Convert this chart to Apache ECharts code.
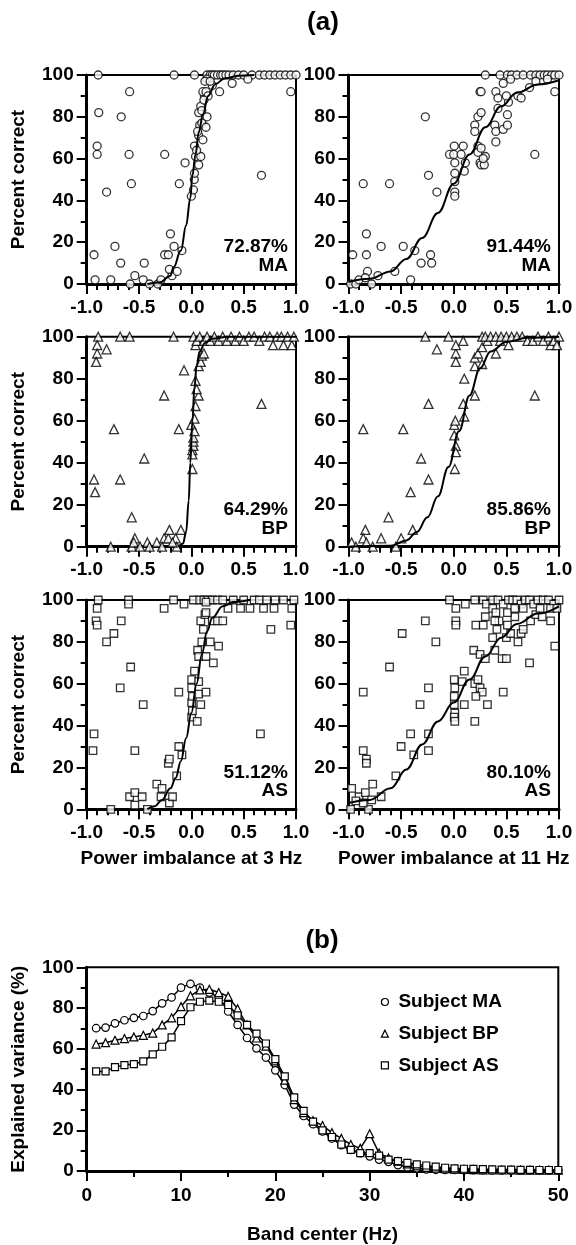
<!DOCTYPE html>
<html>
<head>
<meta charset="utf-8">
<script src="https://cdn.jsdelivr.net/npm/echarts@6/dist/echarts.min.js"></script>
<style>
html,body{margin:0;padding:0;background:#fff;}
#chart{width:576px;height:1245px;}
</style>
</head>
<body>
<div id="chart"></div>
<script>
// ---------- Panel (a) data: [power imbalance, percent correct] ----------
const ma3Pts = [[-0.89,100],[-0.165,100],[0.03,100],[0.15,100],[0.18,100],[0.2,100],[0.22,100],[0.25,100],[0.28,100],[0.3,100],[0.33,100],[0.36,100],[0.4,100],[0.45,100],[0.5,100],[0.58,100],[0.65,100],[0.7,100],[0.75,100],[0.8,100],[0.85,100],[0.9,100],[0.95,100],[1.0,100],
[-0.59,92],[-0.885,82],[-0.9,66],[-0.9,62],[-0.67,80],[-0.595,62],[-0.573,48],[-0.81,44],[-0.255,62],[-0.115,48],[-0.06,58],
[-0.93,14],[-0.92,2],[-0.77,2],[-0.73,18],[-0.675,10],[-0.54,4],[-0.585,0],[-0.45,10],[-0.46,2],[-0.4,0],[-0.32,0],[-0.29,2],[-0.255,14],[-0.22,14],[-0.2,24],[-0.165,18],[-0.09,16],[-0.185,4],[-0.136,6],[-0.21,7],
[0.0,42],[0.02,45],[0.028,50],[0.03,53],[0.04,61],[0.03,66],[0.07,57],[0.09,61],[0.07,71],[0.08,76],[0.1,77],[0.07,82],[0.09,85],[0.11,69],[0.14,75],[0.15,80],[0.125,90],[0.11,92],[0.14,92],[0.16,90],[0.15,98],[0.2,95],[0.27,92],[0.39,96],[0.54,98],[0.67,52],[0.95,92],[0.05,64],[0.06,73],[0.1,83],[0.12,88],[0.13,97],[0.18,97]];
const ma11Pts = [[0.30,100],[0.44,100],[0.51,100],[0.55,100],[0.6,100],[0.66,100],[0.73,100],[0.78,100],[0.82,100],[0.86,100],[0.89,100],[0.93,100],[0.96,100],[1.0,100],
[0.96,92],[0.77,62],[-0.27,80],[-0.24,52],[-0.16,44],[-0.86,48],[-0.61,48],[-0.96,14],[-0.83,24],[-0.83,14],[-0.82,6],[-0.69,18],[-0.48,18],[-0.56,6],[-0.41,2],[-0.37,16],[-0.31,10],[-0.22,14],[-0.21,10],
[-0.98,0],[-0.93,0],[-0.9,2],[-0.84,3],[-0.78,0],[-0.72,4],
[-0.04,62],[0.005,66],[0,62],[0.01,58],[0.01,53],[0.01,49],[0.01,44],[0.01,42],[0.09,66],[0.11,58],[0.1,54],[0.07,62],
[0.2,76],[0.2,73],[0.23,80],[0.25,92],[0.26,92],[0.26,82],[0.23,66],[0.23,63],[0.25,58],[0.26,57],[0.26,65],[0.3,61],[0.29,57],[0.28,60],
[0.39,76],[0.4,73],[0.4,68],[0.4,92],[0.42,89],[0.42,84],[0.47,74],[0.51,81],[0.52,87],[0.51,76],[0.47,96],[0.54,98],[0.61,90],[0.64,89],[0.72,94],[0.78,97],[0.89,98],[0.5,90]];
const bp3Pts = [[-0.89,100],[-0.68,100],[-0.59,100],[-0.17,100],
[-0.9,96],[-0.9,92],[-0.91,88],[-0.81,94],[-0.93,32],[-0.92,26],[-0.74,56],[-0.68,32],[-0.57,14],[-0.45,42],[-0.26,72],[-0.12,56],[-0.07,84],
[-0.77,0],[-0.57,0],[-0.54,4],[-0.55,2],[-0.42,2],[-0.33,2],[-0.26,4],[-0.22,4],[-0.21,8],[-0.15,4],[-0.1,8],[-0.14,0],[-0.28,0],[-0.49,0],[-0.4,0],[-0.18,2],
[0.01,37],[0.01,46],[0.02,48],[0.02,50],[0.0,58],[0.03,61],[0.04,67],[0.04,79],[0.07,72],[0.07,86],[0.09,88],[0.1,91],[0.12,92],[0.04,96],[0.06,98],[0.01,44],[0.02,52],[0.03,55],[0.05,75],
[0.02,100],[0.05,98],[0.08,100],[0.12,98],[0.15,100],[0.18,98],[0.22,100],[0.26,98],[0.3,100],[0.34,98],[0.38,100],[0.42,98],[0.46,100],[0.5,98],[0.55,100],[0.6,100],[0.65,98],[0.7,100],[0.75,100],[0.78,96],[0.82,100],[0.86,100],[0.88,96],[0.92,100],[0.96,96],[0.98,100],
[0.67,68]];
const bp11Pts = [[-0.27,100],[-0.05,100],
[-0.97,2],[-0.93,0],[-0.84,8],[-0.86,4],[-0.83,2],[-0.77,0],[-0.69,4],[-0.62,14],[-0.86,56],[-0.55,0],[-0.5,4],[-0.48,56],[-0.39,8],[-0.41,26],[-0.31,42],[-0.24,32],[-0.24,68],[-0.16,94],
[0.02,92],[0.02,96],[0.02,88],[0.005,58],[0.015,60],[0.02,48],[0.02,45],[0.01,37],[0.005,53],[0.09,98],[0.1,80],[0.09,68],[0.1,62],[0.2,72],[0.2,86],[0.2,90],[0.23,92],[0.27,95],[0.27,87],[0.32,98],[0.4,92],[0.44,98],[0.52,96],[0.77,72],[0.92,96],
[0.27,100],[0.3,100],[0.35,100],[0.4,100],[0.45,100],[0.5,100],[0.55,100],[0.6,100],[0.65,100],[0.7,98],[0.75,98],[0.8,100],[0.85,98],[0.9,100],[0.95,98],[1.0,100],[0.98,96]];
const as3Pts = [[-0.89,100],[-0.6,100],[-0.6,98],[-0.17,100],[-0.26,96],[-0.07,98],[0.02,100],[0.08,100],[0.12,100],[0.16,100],[0.2,100],[0.25,100],[-0.9,96],[-0.91,90],[-0.9,88],[-0.67,90],[-0.74,84],[-0.81,80],[-0.93,36],[-0.94,28],[-0.58,68],[-0.68,58],[-0.46,50],[-0.54,28],[-0.59,6],[-0.54,8],[-0.54,2],[-0.47,6],[-0.77,0],[-0.42,0],[-0.33,12],[-0.28,10],[-0.29,6],[-0.22,22],[-0.21,24],[-0.21,3],[-0.18,6],[-0.14,16],[-0.12,30],[-0.09,26],[-0.12,56],
[0.003,44],[0.01,47],[0.003,51],[0.01,54],[0.003,58],[0.003,62],[0.03,66],[0.056,42],[0.09,50],[0.07,55],[0.07,61],[0.14,56],[0.06,76],[0.07,73],[0.1,80],[0.115,86],[0.09,90],[0.13,93],[0.14,73],[0.18,80],[0.21,70],[0.26,78],[0.2,90],[0.25,90],[0.3,90],[0.14,94],[0.14,99],
[0.3,100],[0.35,96],[0.4,100],[0.47,96],[0.5,100],[0.56,96],[0.6,100],[0.65,100],[0.69,96],[0.72,100],[0.79,96],[0.8,100],[0.88,100],[0.96,96],[0.98,100],[0.76,86],[0.95,88],[0.66,36]];
const as11Pts = [[-0.04,100],[0.02,96],[0.02,90],[0.02,88],[0.11,98],[0.2,100],[0.28,100],[0.31,98],[0.37,100],[0.42,100],[0.47,98],[0.52,100],[0.56,100],[0.6,100],[0.64,98],[0.68,100],[0.72,100],[0.76,98],[0.8,100],[0.85,100],[0.9,100],[0.95,98],[1.0,100],[0.37,96],[0.4,94],
[-0.27,90],[-0.49,84],[-0.17,80],[-0.61,68],[-0.86,56],[-0.32,50],[-0.24,58],[-0.41,36],[-0.24,36],[-0.5,30],[-0.38,26],[-0.24,28],[-0.55,16],[-0.86,28],[-0.83,24],[-0.83,22],[-0.77,12],[-0.97,10],[-0.98,0],[-0.9,6],[-0.84,8],[-0.81,0],[-0.78,4.5],[-0.69,6],[-0.93,4],[-0.86,3],
[0.005,62],[0.01,58],[0.005,54],[0.005,50],[0.01,46],[0.005,44],[0.01,42],[0.08,61],[0.1,66],[0.1,50],[0.2,42],[0.19,76],[0.25,74],[0.2,60],[0.23,62],[0.25,58],[0.27,56],[0.21,54],[0.32,50],[0.3,72],[0.39,76],[0.37,82],[0.41,86],[0.43,90],[0.46,72],[0.5,72],[0.47,56],[0.5,82],[0.51,88],[0.54,84],[0.61,80],[0.64,84],[0.72,70],[0.73,90],[0.66,86],[0.78,93],[0.84,92],[0.92,90],[0.96,78],[0.58,92],[0.21,88],[0.28,88],[0.3,92],[0.39,90],[0.51,94],[0.58,96],[0.66,96],[0.82,96],[0.92,96],[0.98,96]];

// fitted psychometric curves
const ma3Fit = [[-0.42,0],[-0.3,0.8],[-0.2,4],[-0.17,8],[-0.1,16],[-0.05,28],[-0.01,41],[0.01,52],[0.04,62],[0.07,72.5],[0.11,81],[0.16,90],[0.23,95.7],[0.32,98.4],[0.46,99.7],[0.6,100]];
const ma11Fit = [[-1,1],[-0.8,2.5],[-0.6,6],[-0.45,12],[-0.3,22],[-0.15,34],[0,48],[0.15,62],[0.3,75],[0.45,85],[0.6,91.5],[0.8,95.5],[1,97.5]];
const bp3Fit = [[-0.12,0],[-0.08,1.5],[-0.05,7],[-0.025,22],[-0.01,40],[0.01,60],[0.03,76],[0.05,86],[0.08,93],[0.13,97],[0.2,99],[0.35,100],[1,100]];
const bp11Fit = [[-1,0],[-0.6,0.5],[-0.45,3],[-0.35,7],[-0.25,14],[-0.15,24],[-0.05,38],[0.05,55],[0.15,72],[0.25,85],[0.35,93],[0.5,97.5],[0.7,99.5],[1,100]];
const as3Fit = [[-0.42,0],[-0.35,1.5],[-0.28,4.5],[-0.2,10],[-0.15,15],[-0.1,23],[-0.05,34],[0,46],[0.05,60],[0.1,74],[0.15,85],[0.2,91.5],[0.3,97],[0.4,99],[0.55,100]];
const as11Fit = [[-1,3],[-0.8,4.5],[-0.6,10],[-0.45,19],[-0.3,31],[-0.15,42],[0,51],[0.15,62],[0.3,73],[0.45,82],[0.6,88.5],[0.8,93.5],[1,97]];

const pctLabels = ['72.87%','91.44%','64.29%','85.86%','51.12%','80.10%'];
const subjLabels = ['MA','MA','BP','BP','AS','AS'];

// ---------- Panel (b) data ----------
const bands = [1,2,3,4,5,6,7,8,9,10,11,12,13,14,15,16,17,18,19,20,21,22,23,24,25,26,27,28,29,30,31,32,33,34,35,36,37,38,39,40,41,42,43,44,45,46,47,48,49,50];
const maVar = [70.1,70.4,72.5,74,75.2,76.1,78.5,82.3,85.2,90,91.9,90,87.6,85.2,78.3,71.7,65.3,60.2,55.7,49.4,42.2,32.6,27,23,19.4,16,12.7,10.4,8.8,7.2,5.6,4.5,2.9,1.9,1.3,0.8,0.6,0.5,0.5,0.4,0.4,0.4,0.3,0.3,0.3,0.3,0.3,0.3,0.3,0.3];
const bpVar = [62.3,63,64.2,65,65.8,66.6,67.7,71.7,75.2,80.7,86,88.9,89.2,87.6,85.7,79.6,71.7,65.3,61.3,54.1,44.6,35,28.7,24.7,22.3,18.8,16,13,11.1,18.3,8.8,6.4,4.8,3.5,2.5,1.8,1.4,1.1,0.9,0.8,0.7,0.6,0.5,0.5,0.5,0.4,0.4,0.4,0.4,0.4];
const asVar = [48.9,48.9,51,52,52.5,53.8,57.3,61,65.6,73.6,80.4,83.1,83.6,83.1,81.5,76.4,71.7,67.4,62.6,54.9,46.5,36.1,29.5,24.2,19.9,16.7,13,10.4,8.8,8.8,7.5,5.6,4.8,4,3.3,2.7,2.1,1.6,1.3,1.1,1,0.9,0.8,0.7,0.7,0.6,0.6,0.5,0.5,0.5];
const subjects = ['Subject MA','Subject BP','Subject AS'];

// ---------- layout ----------
const FONT = '"Liberation Sans", Arial, Helvetica, sans-serif';
const FS = 19;
const gridDefs = [
  {left:86.7, top:75,    width:209.3, height:209},
  {left:348.5,top:75,    width:210.5, height:209},
  {left:86.7, top:336.7, width:209.3, height:210},
  {left:348.5,top:336.7, width:210.5, height:210},
  {left:86.7, top:600,   width:209.3, height:209.3},
  {left:348.5,top:600,   width:210.5, height:209.3},
  {left:86.7, top:967.3, width:471.6, height:209.4}
];
const txt = {color:'#000', fontSize:FS, fontWeight:'bold', fontFamily:FONT};
const axLine = {show:true, onZero:false, lineStyle:{color:'#000', width:3}};
const tick = {show:true, inside:false, length:10, lineStyle:{color:'#000', width:2}};

const xAxes = [], yAxes = [], series = [];
const ptsList = [ma3Pts, ma11Pts, bp3Pts, bp11Pts, as3Pts, as11Pts];
const fitList = [ma3Fit, ma11Fit, bp3Fit, bp11Fit, as3Fit, as11Fit];
const symList = ['circle','circle','triangle','triangle','rect','rect'];
const symSize = [8,8,9,9,7.5,7.5];
const xNames = ['','','','','Power imbalance at 3 Hz','Power imbalance at 11 Hz'];

for (let i = 0; i < 6; i++) {
  xAxes.push({gridIndex:i, type:'value', min:-1, max:1, interval:0.5,
    axisLine:axLine, axisTick:tick,
    minorTick:{show:true, splitNumber:5, length:6, lineStyle:{color:'#000', width:2}},
    splitLine:{show:false}, minorSplitLine:{show:false},
    axisLabel:Object.assign({margin:14, showMinLabel:true, showMaxLabel:true, formatter:v=>v.toFixed(1)}, txt),
    name:xNames[i], nameLocation:'middle', nameGap:40, nameTextStyle:txt});
  yAxes.push({gridIndex:i, type:'value', min:0, max:100, interval:20,
    axisLine:axLine, axisTick:tick,
    minorTick:{show:true, splitNumber:2, length:6, lineStyle:{color:'#000', width:2}},
    splitLine:{show:false}, minorSplitLine:{show:false},
    axisLabel:Object.assign({margin:13, showMinLabel:true, showMaxLabel:true}, txt),
    name: i % 2 === 0 ? 'Percent correct' : '', nameLocation:'middle', nameGap:58, nameTextStyle:txt});
  series.push({type:'scatter', xAxisIndex:i, yAxisIndex:i, data:ptsList[i], symbol:symList[i], symbolSize:symSize[i],
    itemStyle:{color:'#fff', borderColor:'#000', borderWidth:1.3}, clip:false, silent:true, z:2});
  series.push({type:'line', xAxisIndex:i, yAxisIndex:i, data:fitList[i], showSymbol:false, smooth:0.4, smoothMonotone:'x',
    lineStyle:{color:'#000', width:2}, clip:true, silent:true, z:3});
}
// panel (b)
xAxes.push({gridIndex:6, type:'value', min:0, max:50, interval:10,
  axisLine:axLine, axisTick:tick,
  minorTick:{show:true, splitNumber:2, length:6, lineStyle:{color:'#000', width:2}},
  splitLine:{show:false}, minorSplitLine:{show:false},
  axisLabel:Object.assign({margin:15, showMinLabel:true, showMaxLabel:true}, txt),
  name:'Band center (Hz)', nameLocation:'middle', nameGap:54, nameTextStyle:txt});
yAxes.push({gridIndex:6, type:'value', min:0, max:100, interval:20,
  axisLine:axLine, axisTick:tick,
  minorTick:{show:true, splitNumber:2, length:6, lineStyle:{color:'#000', width:2}},
  splitLine:{show:false}, minorSplitLine:{show:false},
  axisLabel:Object.assign({margin:13, showMinLabel:true, showMaxLabel:true}, txt),
  name:'Explained variance (%)', nameLocation:'middle', nameGap:58, nameTextStyle:txt});
const varList = [maVar, bpVar, asVar];
const bSym = ['circle','triangle','rect'];
const bSize = [7.5,8,7];
for (let k = 0; k < 3; k++) {
  series.push({type:'line', name:subjects[k], xAxisIndex:6, yAxisIndex:6,
    data: bands.map((b, j) => [b, varList[k][j]]),
    symbol:bSym[k], symbolSize:bSize[k], showSymbol:true, showAllSymbol:true,
    lineStyle:{color:'#000', width:1.5},
    itemStyle:{color:'#fff', borderColor:'#000', borderWidth:1.2}, clip:false, silent:true, z:2+k});
}

const graphics = [
  {type:'text', x:323, y:23, style:{text:'(a)', align:'center', verticalAlign:'middle', fill:'#000', font:'bold 26px ' + FONT}},
  {type:'text', x:322, y:941, style:{text:'(b)', align:'center', verticalAlign:'middle', fill:'#000', font:'bold 26px ' + FONT}}
];
for (let i = 0; i < 6; i++) {
  const g = gridDefs[i];
  graphics.push({type:'text', x:g.left + g.width - 8, y:g.top + g.height - 46,
    style:{text:pctLabels[i] + '\n' + subjLabels[i], align:'right', verticalAlign:'top', lineHeight:18.5,
      fill:'#000', font:'bold ' + FS + 'px ' + FONT}});
}

const chart = echarts.init(document.getElementById('chart'), null, {renderer:'canvas'});
chart.setOption({
  animation:false,
  backgroundColor:'#fff',
  grid: gridDefs.map(g => Object.assign({show:true, borderColor:'#000', borderWidth:2, backgroundColor:'transparent'}, g)),
  xAxis:xAxes, yAxis:yAxes, series:series,
  legend:{data:[{name:'Subject MA', icon:'circle'},{name:'Subject BP', icon:'triangle'},{name:'Subject AS', icon:'rect'}],
    orient:'vertical', left:375.8, top:987, itemWidth:7, itemHeight:7, itemGap:11.7, selectedMode:false,
    itemStyle:{color:'#fff', borderColor:'#000', borderWidth:1.2},
    textStyle:Object.assign({lineHeight:20, padding:[0,0,0,5]}, txt)},
  graphic:graphics
});
</script>
</body>
</html>
